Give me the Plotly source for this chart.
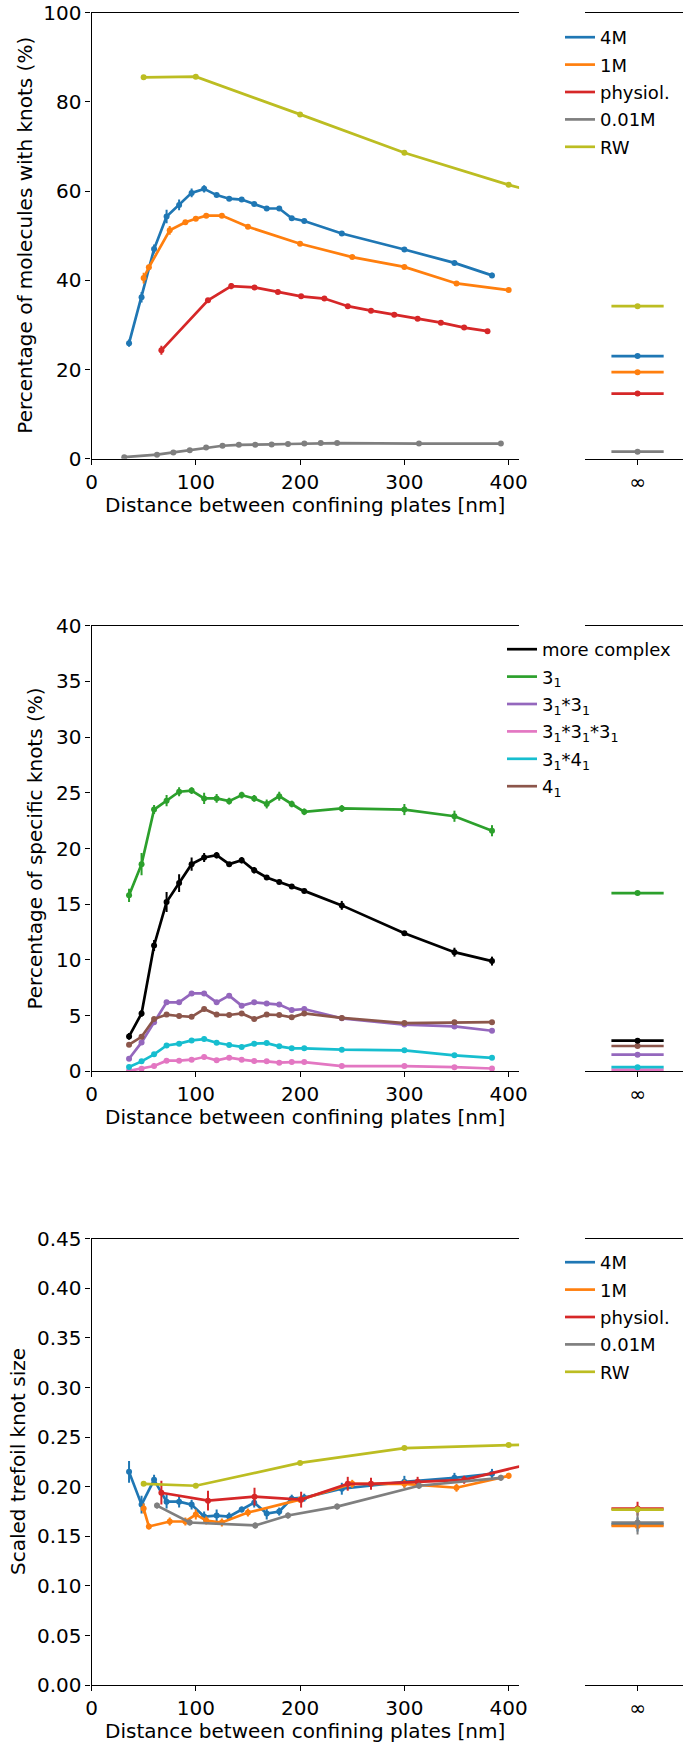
import plotly.graph_objects as go

# ---------------- data ----------------
# Panel 1: percentage of molecules with knots
x_4M = [36, 48, 60, 72, 84, 96, 108, 120, 132, 144, 156, 168, 180, 192, 204, 240, 300, 348, 384]
x_1M = [50, 55, 75, 90, 100, 110, 125, 150, 200, 250, 300, 350, 400]
x_phys = [67.0, 111.7, 134.0, 156.3, 178.7, 201.0, 223.3, 245.7, 268.0, 290.3, 312.7, 335.0, 357.3, 379.7]
x_001 = [31.4, 62.8, 78.5, 94.2, 109.9, 125.6, 141.3, 157.0, 172.7, 188.4, 204.1, 219.8, 235.5, 314.0, 392.5]
x_RW = [50, 100, 200, 300, 400, 500]

knots_4M = [25.9, 36.2, 47.0, 54.3, 56.9, 59.6, 60.5, 59.1, 58.3, 58.1, 57.1, 56.1, 56.1, 53.9, 53.3, 50.5, 46.9, 43.9, 41.1]
knots_4M_err = [0.8, 1.2, 1.0, 1.5, 1.2, 1.0, 0.8, 0.4, 0.3, 0.4, 0.3, 0.3, 0.3, 0.4, 0.3, 0.3, 0.3, 0.3, 0.6]
knots_1M = [40.5, 42.9, 51.2, 53.0, 53.8, 54.5, 54.5, 52.0, 48.2, 45.2, 43.0, 39.3, 37.8]
knots_1M_err = [1.2, 0.6, 1.0, 0.4, 0.4, 0.3, 0.3, 0.3, 0.3, 0.3, 0.3, 0.3, 0.3]
knots_phys = [24.3, 35.5, 38.7, 38.4, 37.4, 36.4, 35.9, 34.2, 33.2, 32.3, 31.4, 30.5, 29.4, 28.6]
knots_phys_err = [1.0, 0.4, 0.7, 0.5, 0.3, 0.3, 0.3, 0.3, 0.3, 0.3, 0.3, 0.3, 0.3, 0.3]
knots_001 = [0.35, 0.9, 1.4, 1.9, 2.5, 2.9, 3.1, 3.1, 3.2, 3.3, 3.4, 3.5, 3.5, 3.4, 3.4]
knots_001_err = [0.1] * 15
knots_RW = [85.5, 85.65, 77.2, 68.6, 61.4, 55.2]
knots_RW_err = [0.2] * 6
knots_inf = [23.0, 19.4, 14.6, 1.57, 34.2]      # 4M, 1M, physiol., 0.01M, RW
knots_inf_err = [0.2, 0.2, 0.2, 0.1, 0.2]

# Panel 2: percentage of specific knots (x = x_4M)
more_complex = [3.14, 5.2, 11.3, 15.2, 16.9, 18.6, 19.2, 19.4, 18.6, 18.95, 18.05, 17.4, 17.0, 16.6, 16.2, 14.9, 12.4, 10.7, 9.9]
more_complex_err = [0.3, 0.3, 0.5, 0.9, 0.8, 0.6, 0.4, 0.3, 0.2, 0.3, 0.3, 0.2, 0.2, 0.2, 0.2, 0.4, 0.2, 0.4, 0.4]
trefoil = [15.8, 18.6, 23.5, 24.3, 25.1, 25.2, 24.5, 24.5, 24.25, 24.8, 24.5, 24.0, 24.7, 24.0, 23.3, 23.6, 23.5, 22.9, 21.6]
trefoil_err = [0.6, 1.0, 0.4, 0.5, 0.4, 0.3, 0.5, 0.4, 0.3, 0.3, 0.3, 0.4, 0.4, 0.3, 0.3, 0.3, 0.5, 0.5, 0.5]
t31_31 = [1.14, 2.6, 4.4, 6.2, 6.2, 7.0, 7.0, 6.2, 6.8, 5.9, 6.2, 6.1, 6.0, 5.5, 5.6, 4.76, 4.2, 4.04, 3.65]
t31_31_31 = [0.05, 0.24, 0.48, 0.96, 0.96, 1.05, 1.29, 0.99, 1.23, 1.05, 0.93, 0.9, 0.78, 0.84, 0.84, 0.48, 0.48, 0.38, 0.26]
t31_41 = [0.39, 0.9, 1.53, 2.33, 2.49, 2.78, 2.9, 2.57, 2.37, 2.2, 2.49, 2.54, 2.25, 2.07, 2.07, 1.95, 1.89, 1.44, 1.22]
t41 = [2.4, 3.1, 4.7, 5.1, 4.97, 4.9, 5.6, 5.1, 5.06, 5.2, 4.7, 5.1, 5.06, 4.85, 5.2, 4.8, 4.34, 4.42, 4.42]
small_err = [0.2] * 19
specific_inf = [2.76, 16.0, 1.5, 0.16, 0.38, 2.28]   # more complex, 3_1, 3_1*3_1, 3_1*3_1*3_1, 3_1*4_1, 4_1
specific_inf_err = [0.15, 0.2, 0.1, 0.05, 0.05, 0.1]

# Panel 3: scaled trefoil knot size
x_phys_size = [67.0, 111.7, 156.3, 201.0, 245.7, 268.0, 312.7, 357.3, 424.3]
x_001_size = [62.8, 94.2, 157.0, 188.4, 235.5, 314.0, 392.5]
size_4M = [0.215, 0.182, 0.207, 0.185, 0.185, 0.182, 0.170, 0.171, 0.170, 0.177, 0.184, 0.173, 0.175, 0.188, 0.189, 0.198, 0.205, 0.209, 0.213]
size_4M_err = [0.011, 0.009, 0.005, 0.007, 0.006, 0.005, 0.005, 0.006, 0.004, 0.003, 0.005, 0.006, 0.004, 0.004, 0.004, 0.006, 0.006, 0.005, 0.005]
size_1M = [0.178, 0.160, 0.165, 0.165, 0.172, 0.166, 0.164, 0.174, 0.187, 0.203, 0.203, 0.199, 0.211]
size_1M_err = [0.005, 0.003, 0.004, 0.004, 0.005, 0.004, 0.004, 0.004, 0.003, 0.004, 0.004, 0.004, 0.003]
size_phys = [0.194, 0.186, 0.190, 0.187, 0.203, 0.203, 0.205, 0.207, 0.224]
size_phys_err = [0.012, 0.010, 0.009, 0.008, 0.007, 0.006, 0.005, 0.004, 0.004]
size_001 = [0.181, 0.164, 0.161, 0.171, 0.180, 0.201, 0.209]
size_001_err = [0.003] * 7
size_RW = [0.203, 0.201, 0.224, 0.239, 0.242, 0.244]
size_RW_err = [0.002] * 6
size_inf = [0.162, 0.1605, 0.178, 0.164, 0.177]      # 4M, 1M, physiol., 0.01M, RW
size_inf_err = [0.007, 0.002, 0.007, 0.012, 0.003]

salt_names = ["4M", "1M", "physiol.", "0.01M", "RW"]
salt_colors = ["#1f77b4", "#ff7f0e", "#d62728", "#7f7f7f", "#bcbd22"]
knot_names = ["more complex", "3<sub>1</sub>", "3<sub>1</sub>*3<sub>1</sub>",
              "3<sub>1</sub>*3<sub>1</sub>*3<sub>1</sub>", "3<sub>1</sub>*4<sub>1</sub>", "4<sub>1</sub>"]
knot_colors = ["#000000", "#2ca02c", "#9467bd", "#e377c2", "#17becf", "#8c564b"]

xtitle = "Distance between confining plates [nm]"
ytitles = ["Percentage of molecules with knots (%)", "Percentage of specific knots (%)",
           "Scaled trefoil knot size"]
yranges = [[0, 100], [0, 40], [0, 0.45]]
ydticks = [20, 5, 0.05]
yformats = ["", "", ".2f"]

# ---------------- style / layout ----------------
W, H = 683, 1746
FONT = "DejaVu Sans"
FS = 20
LFS = 18
LW = 2.7
MS = 6
INF_HALF = 0.5

fig = go.Figure()


def add_series(xs, ys, errs, name, color, xa, ya, legend):
    # line (carries the legend entry, drawn as a plain line like the original)
    fig.add_trace(go.Scatter(
        x=xs, y=ys, name=name, mode="lines", legendgroup=legend + name,
        line=dict(color=color, width=LW),
        xaxis=xa, yaxis=ya, legend=legend, showlegend=True,
    ))
    # markers with error bars
    fig.add_trace(go.Scatter(
        x=xs, y=ys, name=name, mode="markers", legendgroup=legend + name,
        marker=dict(color=color, size=MS),
        error_y=dict(type="data", array=errs, color=color, thickness=2, width=0),
        xaxis=xa, yaxis=ya, showlegend=False,
    ))


def add_inf(y, err, color, xa, ya):
    fig.add_trace(go.Scatter(
        x=[0], y=[y], mode="markers", showlegend=False,
        marker=dict(color=color, size=MS),
        error_x=dict(type="constant", value=INF_HALF, color=color, thickness=LW, width=0),
        error_y=dict(type="data", array=[err], color=color, thickness=2, width=0),
        xaxis=xa, yaxis=ya,
    ))


# Panel 1
p1 = [(x_4M, knots_4M, knots_4M_err), (x_1M, knots_1M, knots_1M_err),
      (x_phys, knots_phys, knots_phys_err), (x_001, knots_001, knots_001_err),
      (x_RW, knots_RW, knots_RW_err)]
for (xs, ys, es), n, c in zip(p1, salt_names, salt_colors):
    add_series(xs, ys, es, n, c, "x", "y", "legend")
for v, e, c in zip(knots_inf, knots_inf_err, salt_colors):
    add_inf(v, e, c, "x2", "y2")

# Panel 2
p2 = [(more_complex, more_complex_err), (trefoil, trefoil_err), (t31_31, small_err),
      (t31_31_31, small_err), (t31_41, small_err), (t41, small_err)]
for (ys, es), n, c in zip(p2, knot_names, knot_colors):
    add_series(x_4M, ys, es, n, c, "x3", "y3", "legend2")
for i in [3, 4, 2, 5, 0, 1]:
    add_inf(specific_inf[i], specific_inf_err[i], knot_colors[i], "x4", "y4")

# Panel 3
p3 = [(x_4M, size_4M, size_4M_err), (x_1M, size_1M, size_1M_err),
      (x_phys_size, size_phys, size_phys_err), (x_001_size, size_001, size_001_err),
      (x_RW, size_RW, size_RW_err)]
for (xs, ys, es), n, c in zip(p3, salt_names, salt_colors):
    add_series(xs, ys, es, n, c, "x5", "y5", "legend3")
for v, e, c in zip(size_inf, size_inf_err, salt_colors):
    add_inf(v, e, c, "x6", "y6")

# geometry (pixels -> paper)
main_px = (91.5, 519.1)
main_dom = [main_px[0] / W, main_px[1] / W]
inf_dom = [585.3 / W, 1.0]
panels_px = [(12.7, 458.7), (625.7, 1071.4), (1238.7, 1685.2)]
ydoms = [[1 - b / H, 1 - t / H] for t, b in panels_px]
ytitle_x = [25, 35, 18]
xtitle_gap = 46

tickfont = dict(family=FONT, size=FS, color="black")
common_ax = dict(showline=True, linecolor="black", linewidth=1.1, ticks="outside",
                 ticklen=5, tickwidth=1.1, tickcolor="black", showgrid=False,
                 zeroline=False, tickfont=tickfont, automargin=False)

layout = dict(
    width=W, height=H, margin=dict(l=0, r=0, t=0, b=0, autoexpand=False),
    paper_bgcolor="white", plot_bgcolor="white",
    font=dict(family=FONT, size=FS, color="black"),
)
annotations = []
for i in range(3):
    mx = 2 * i + 1
    ix = 2 * i + 2
    sx = "" if mx == 1 else str(mx)
    layout["xaxis" + sx] = dict(common_ax, domain=main_dom, anchor="y" + sx, range=[0, 410],
                                 mirror=True, tickmode="array", tickvals=[0, 100, 200, 300, 400])
    layout["yaxis" + sx] = dict(common_ax, domain=ydoms[i], anchor="x" + sx, range=yranges[i],
                                 dtick=ydticks[i], tickformat=yformats[i])
    layout["xaxis" + str(ix)] = dict(common_ax, domain=inf_dom, anchor="y" + str(ix),
                                      range=[-1.0, 0.87], mirror=True, tickmode="array",
                                      tickvals=[0], ticktext=["∞"])
    layout["yaxis" + str(ix)] = dict(domain=ydoms[i], anchor="x" + str(ix), range=yranges[i],
                                      visible=False, showgrid=False, zeroline=False)
    top, bot = panels_px[i]
    annotations.append(dict(
        text=xtitle, xref="paper", yref="paper", showarrow=False,
        x=(main_px[0] + main_px[1]) / 2 / W, y=1 - (bot + xtitle_gap) / H,
        xanchor="center", yanchor="middle", font=dict(family=FONT, size=FS, color="black")))
    annotations.append(dict(
        text=ytitles[i], xref="paper", yref="paper", showarrow=False, textangle=-90,
        x=ytitle_x[i] / W, y=1 - (top + bot) / 2 / H,
        xanchor="center", yanchor="middle", font=dict(family=FONT, size=FS, color="black")))
layout["annotations"] = annotations

legend_common = dict(xanchor="left", yanchor="top", bgcolor="rgba(0,0,0,0)",
                     borderwidth=0, font=dict(family=FONT, size=LFS, color="black"),
                     tracegroupgap=1)
layout["legend"] = dict(legend_common, x=560 / W, y=1 - 19 / H)
layout["legend2"] = dict(legend_common, x=502 / W, y=1 - 631 / H)
layout["legend3"] = dict(legend_common, x=560 / W, y=1 - 1244 / H)

fig.update_layout(**layout)
fig.write_html("out.html", config={"displayModeBar": False},
               post_script="document.body.style.margin='0';document.body.style.padding='0';")
